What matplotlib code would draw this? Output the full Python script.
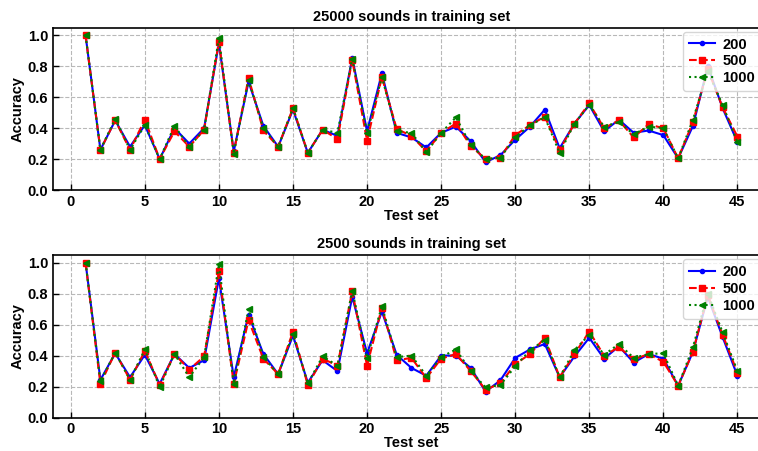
import numpy as np
import matplotlib
matplotlib.use('Agg')
import matplotlib.pyplot as plt

plt.rcParams['font.family'] = ['Liberation Sans', 'DejaVu Sans']
plt.rcParams['font.weight'] = 'bold'
plt.rcParams['axes.labelweight'] = 'bold'
plt.rcParams['axes.titleweight'] = 'bold'

test_set = np.arange(1, 46)
labels = ['200', '500', '1000']

# 25000 sounds in training set
top_200 = [1.00, 0.26, 0.45, 0.28, 0.42, 0.20, 0.40, 0.30, 0.40, 0.95,
           0.25, 0.70, 0.415, 0.28, 0.52, 0.24, 0.39, 0.35, 0.855, 0.38,
           0.755, 0.37, 0.34, 0.275, 0.37, 0.41, 0.315, 0.18, 0.225, 0.325,
           0.41, 0.52, 0.27, 0.43, 0.55, 0.38, 0.455, 0.37, 0.385, 0.355,
           0.205, 0.415, 0.80, 0.53, 0.31]
top_500 = [1.00, 0.26, 0.45, 0.26, 0.455, 0.20, 0.38, 0.28, 0.39, 0.96,
           0.24, 0.725, 0.385, 0.28, 0.53, 0.24, 0.39, 0.33, 0.84, 0.32,
           0.73, 0.395, 0.35, 0.25, 0.37, 0.43, 0.285, 0.20, 0.21, 0.355,
           0.42, 0.475, 0.26, 0.43, 0.56, 0.40, 0.45, 0.34, 0.425, 0.40,
           0.205, 0.44, 0.78, 0.535, 0.345]
top_1000 = [1.00, 0.26, 0.46, 0.26, 0.42, 0.20, 0.415, 0.28, 0.39, 0.985,
            0.235, 0.71, 0.40, 0.28, 0.53, 0.24, 0.39, 0.37, 0.85, 0.37,
            0.73, 0.38, 0.37, 0.245, 0.37, 0.47, 0.29, 0.20, 0.21, 0.34,
            0.42, 0.47, 0.24, 0.43, 0.55, 0.41, 0.44, 0.36, 0.41, 0.40,
            0.205, 0.455, 0.77, 0.55, 0.31]

# 2500 sounds in training set
bot_200 = [1.00, 0.243, 0.415, 0.26, 0.405, 0.217, 0.41, 0.32, 0.37, 0.90,
           0.26, 0.665, 0.41, 0.28, 0.53, 0.225, 0.37, 0.30, 0.78, 0.415,
           0.685, 0.405, 0.32, 0.27, 0.40, 0.40, 0.32, 0.167, 0.24, 0.385,
           0.44, 0.475, 0.26, 0.395, 0.515, 0.38, 0.46, 0.355, 0.41, 0.38,
           0.205, 0.425, 0.78, 0.52, 0.27]
bot_500 = [1.00, 0.217, 0.42, 0.243, 0.43, 0.21, 0.41, 0.31, 0.395, 0.945,
           0.217, 0.63, 0.38, 0.28, 0.555, 0.21, 0.38, 0.335, 0.815, 0.335,
           0.71, 0.37, 0.385, 0.255, 0.38, 0.41, 0.30, 0.18, 0.22, 0.345,
           0.41, 0.515, 0.26, 0.41, 0.555, 0.40, 0.455, 0.375, 0.41, 0.36,
           0.205, 0.425, 0.79, 0.535, 0.29]
bot_1000 = [1.00, 0.235, 0.42, 0.243, 0.44, 0.195, 0.41, 0.26, 0.39, 0.99,
            0.217, 0.70, 0.39, 0.28, 0.54, 0.22, 0.395, 0.335, 0.82, 0.385,
            0.72, 0.39, 0.40, 0.27, 0.39, 0.44, 0.30, 0.195, 0.21, 0.33,
            0.435, 0.50, 0.26, 0.435, 0.535, 0.405, 0.475, 0.385, 0.41, 0.415,
            0.205, 0.455, 0.80, 0.55, 0.30]

panels = [('25000 sounds in training set', [top_200, top_500, top_1000]),
          ('2500 sounds in training set', [bot_200, bot_500, bot_1000])]
styles = [dict(color='blue', linestyle='-', marker='.', markersize=6),
          dict(color='red', linestyle='--', marker='s', markersize=4),
          dict(color='green', linestyle=':', marker='<', markersize=4)]

fig = plt.figure(figsize=(7.58, 4.51), dpi=100)
W, H = 758.0, 451.0
# axes boxes in pixels: left, bottom (from top), top; right runs past the figure edge
boxes = [(53, 190, 27.7), (53, 417.5, 255)]
right_px = 770

for (title, series), (l, b, t) in zip(panels, boxes):
    ax = fig.add_axes([l / W, 1 - b / H, (right_px - l) / W, (b - t) / H])
    for vals, lab, st in zip(series, labels, styles):
        ax.plot(test_set, vals, label=lab, linewidth=1.5, **st)
    ax.set_xlim(-1.2, 47.2)
    ax.set_ylim(0, 1.05)
    ax.set_xticks([0, 5, 10, 15, 20, 25, 30, 35, 40, 45])
    ax.set_yticks([0.0, 0.2, 0.4, 0.6, 0.8, 1.0])
    ax.grid(True, linestyle='--', color='#b8b8b8', linewidth=0.8)
    ax.tick_params(direction='in', labelsize=10.5, length=4, width=1)
    ax.set_title(title, fontsize=10.5, pad=5)
    ax.set_xlabel('Test set', fontsize=10.5, labelpad=0)
    ax.set_ylabel('Accuracy', fontsize=10.5, labelpad=2)
    for s in ax.spines.values():
        s.set_linewidth(1.2)
    ax.legend(loc='upper right', fontsize=10.5, handlelength=1.8,
              handletextpad=0.5, labelspacing=0.2, borderaxespad=0,
              bbox_to_anchor=(1 - 9 / (right_px - l), 1 - 4 / (b - t)))

fig.savefig('out.png', dpi=100)
